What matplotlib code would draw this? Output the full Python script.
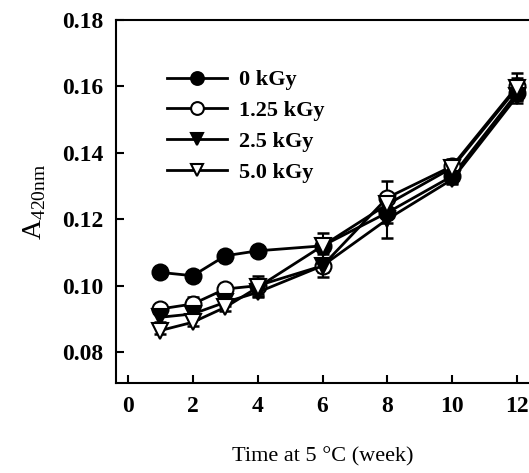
import numpy as np
import matplotlib
matplotlib.use('Agg')
import matplotlib.pyplot as plt

plt.rcParams['font.family'] = 'Liberation Serif'
plt.rcParams['mathtext.fontset'] = 'custom'
plt.rcParams['mathtext.rm'] = 'Liberation Serif'

weeks = [1, 2, 3, 4, 6, 8, 10, 12]

a_0 = [0.104, 0.103, 0.109, 0.1105, 0.112, 0.122, 0.133, 0.158]
e_0 = [0.0015, 0.0015, 0.001, 0.0015, 0.004, 0.003, 0.002, 0.002]
a_125 = [0.093, 0.0945, 0.099, 0.1, 0.106, 0.1265, 0.136, 0.160]
e_125 = [0.0015, 0.002, 0.001, 0.003, 0.002, 0.005, 0.002, 0.004]
a_25 = [0.0905, 0.0915, 0.095, 0.098, 0.106, 0.120, 0.132, 0.157]
e_25 = [0.0015, 0.0015, 0.001, 0.0015, 0.0035, 0.0055, 0.0015, 0.002]
a_50 = [0.0865, 0.089, 0.0935, 0.0995, 0.112, 0.1245, 0.1355, 0.1595]
e_50 = [0.001, 0.001, 0.001, 0.002, 0.002, 0.003, 0.002, 0.003]

labels = ['0 kGy', '1.25 kGy', '2.5 kGy', '5.0 kGy']
series = [a_0, a_125, a_25, a_50]
errs = [e_0, e_125, e_25, e_50]
markers = ['o', 'o', 'v', 'v']
fills = ['black', 'white', 'black', 'white']

fig = plt.figure(figsize=(5.29, 4.73), dpi=100)
ax = fig.add_axes([116/529, 90/473, 413/529, 363/473])

handles = []
for s, e, m, f, lab in zip(series, errs, markers, fills, labels):
    ax.errorbar(weeks, s, yerr=e, fmt='none', ecolor='black', elinewidth=1.5,
                capsize=4, capthick=1.8, zorder=2)
    h, = ax.plot(weeks, s, color='black', lw=2, marker=m, ms=11.5,
                 mfc=f, mec='black', mew=1.5, label=lab, zorder=3)
    handles.append(h)

ax.set_xlim(-0.37, 12.37)
ax.set_ylim(0.0707, 0.18)
ax.set_xticks([0, 2, 4, 6, 8, 10, 12])
ax.set_yticks([0.08, 0.10, 0.12, 0.14, 0.16, 0.18])
ax.set_yticklabels(['0.08', '0.10', '0.12', '0.14', '0.16', '0.18'])
ax.tick_params(direction='in', length=6, width=1.5, labelsize=17, pad=9)
for lbl in ax.get_xticklabels() + ax.get_yticklabels():
    lbl.set_fontweight('bold')
ax.spines['right'].set_visible(False)
for sp in ['left', 'bottom', 'top']:
    ax.spines[sp].set_linewidth(1.5)

ax.set_xlabel('Time at 5 °C (week)', fontsize=16, labelpad=22)
ax.set_ylabel(r'A$_{\mathregular{420nm}}$', fontsize=20, labelpad=10)

leg = ax.legend(handles=handles, loc='upper left', bbox_to_anchor=(0.075, 0.918),
                frameon=False, prop={'weight': 'bold', 'size': 16},
                handlelength=2.7, handletextpad=0.55, labelspacing=0.46,
                markerscale=0.8)

fig.savefig('out.png', dpi=100)
